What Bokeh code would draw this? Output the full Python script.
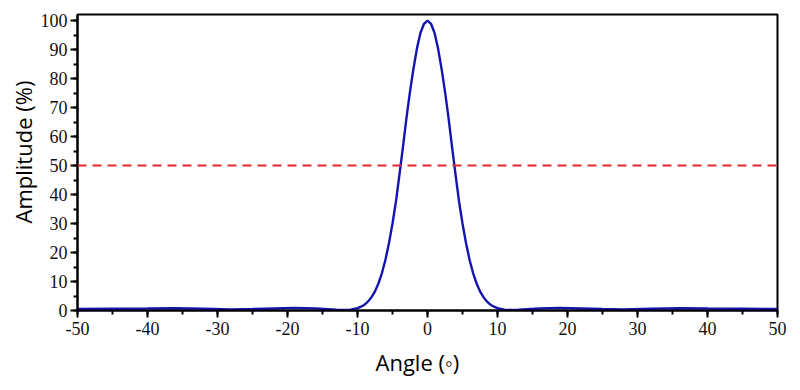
from bokeh.plotting import figure
from bokeh.models import Range1d, SingleIntervalTicker, Span, Title, CustomJSTickFormatter
from bokeh.embed import file_html
from bokeh.resources import INLINE

angle = [-50, -45, -40, -36, -32, -28, -25, -22, -19, -16, -13, -12, -11,
         -10, -9.5, -9, -8.5, -8, -7.5, -7, -6.5, -6, -5.5, -5, -4.5, -4, -3.5,
         -3, -2.5, -2, -1.5, -1, -0.5, 0, 0.5, 1, 1.5, 2, 2.5, 3, 3.5, 4, 4.5,
         5, 5.5, 6, 6.5, 7, 7.5, 8, 8.5, 9, 9.5, 10,
         11, 12, 13, 16, 19, 22, 25, 28, 32, 36, 40, 45, 50]
amplitude = [0.5, 0.6, 0.7, 0.8, 0.6, 0.4, 0.5, 0.7, 0.9, 0.7, 0.3, 0.2, 0.3,
             0.8, 1.3, 2.0, 3.1, 4.6, 6.6, 9.4, 13.0, 17.6, 23.3, 30.0, 37.7, 47.0, 56.5,
             66.5, 75.5, 83.5, 90.5, 95.8, 98.9, 100.0, 98.9, 95.8, 90.5, 83.5, 75.5, 66.5, 56.5, 47.0, 37.7,
             30.0, 23.3, 17.6, 13.0, 9.4, 6.6, 4.6, 3.1, 2.0, 1.3, 0.8,
             0.3, 0.2, 0.3, 0.7, 0.9, 0.7, 0.5, 0.4, 0.6, 0.8, 0.7, 0.6, 0.5]
half_level = 50
x_title = "Angle (\u25e6)"
y_title = "Amplitude (%)"

p = figure(width=800, height=390, output_backend="svg", toolbar_location=None,
           x_range=Range1d(-50, 50), y_range=Range1d(0, 102.1))
p.min_border_left = 77
p.min_border_right = 23
p.min_border_top = 14
p.min_border_bottom = 80
p.background_fill_color = "white"
p.border_fill_color = "white"
p.outline_line_color = "black"
p.outline_line_width = 2
p.outline_line_alpha = 1
p.grid.visible = False

p.line(angle, amplitude, line_color="#1414b0", line_width=2.4)
p.add_layout(Span(location=half_level, dimension="width", line_color="#e0282c",
                  line_width=2, line_dash="9 6"))

fmt = CustomJSTickFormatter(code="return tick.toString();")
p.xaxis.ticker = SingleIntervalTicker(interval=10, num_minor_ticks=2)
p.yaxis.ticker = SingleIntervalTicker(interval=10, num_minor_ticks=2)
for ax in (p.xaxis, p.yaxis):
    ax.formatter = fmt
    ax.axis_line_width = 2
    ax.axis_line_color = "black"
    ax.major_tick_line_width = 2
    ax.minor_tick_line_width = 2
    ax.major_tick_line_color = "black"
    ax.minor_tick_line_color = "black"
    ax.major_tick_out = 7
    ax.major_tick_in = 0
    ax.minor_tick_out = 4
    ax.minor_tick_in = 0
    ax.major_label_text_font = "Liberation Serif"
    ax.major_label_text_font_size = "18px"
    ax.major_label_text_color = "#111111"
p.xaxis.major_label_standoff = 4
p.yaxis.major_label_standoff = 3

p.add_layout(Title(text=x_title, align="left", offset=298, text_font="Open Sans",
                   text_font_size="22px", text_font_style="normal", text_color="black",
                   standoff=14), "below")
p.add_layout(Title(text=y_title, align="left", offset=87, text_font="Open Sans",
                   text_font_size="22px", text_font_style="normal", text_color="black",
                   standoff=0), "left")

open("out.html", "w").write(file_html(p, INLINE))
